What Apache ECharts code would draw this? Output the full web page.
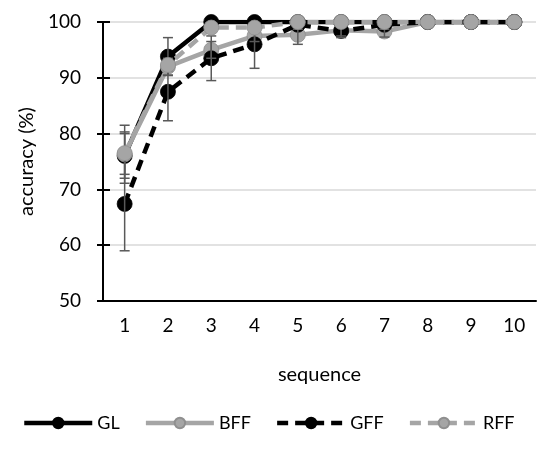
<!DOCTYPE html>
<html>
<head>
<meta charset="utf-8">
<script src="https://cdn.jsdelivr.net/npm/echarts@6/dist/echarts.min.js"></script>
<style>
  html, body { margin: 0; padding: 0; background: #fff; }
  #main { width: 540px; height: 450px; }
</style>
</head>
<body>
<div id="main"></div>
<script>
// data
var sequence = ['1', '2', '3', '4', '5', '6', '7', '8', '9', '10'];
var GL  = [76, 93.8, 100, 100, 100, 100, 100, 100, 100, 100];
var BFF = [76.3, 92, 95, 97.5, 97.7, 98.5, 98.3, 100, 100, 100];
var GFF = [67.4, 87.5, 93.5, 96, 99.5, 98.4, 99.5, 100, 100, 100];
var RFF = [76.5, 92.3, 99, 99, 100, 100, 100, 100, 100, 100];
// +/- error
var GLerr  = [4, 3.4, 0, 0, 0, 0, 0, 0, 0, 0];
var BFFerr = [5.2, 1.5, 1.5, 1, 1.7, 1, 1, 0, 0, 0];
var GFFerr = [8.4, 5.2, 4, 4.3, 0.8, 1.2, 0.8, 0, 0, 0];
var RFFerr = [3.8, 1, 0.8, 0.8, 0, 0, 0, 0, 0, 0];
var yTicks = [50, 60, 70, 80, 90, 100];

var font = 'Lato';
var black = '#000000';
var grey = '#a5a5a5';

function errData(vals, errs) {
  var out = [];
  for (var i = 0; i < vals.length; i++) {
    if (errs[i] > 0) out.push([i, vals[i] - errs[i], vals[i] + errs[i]]);
  }
  return out;
}

function errSeries(name, vals, errs) {
  return {
    name: name + ' err',
    type: 'custom',
    z: 5,
    silent: true,
    data: errData(vals, errs),
    renderItem: function (params, api) {
      var lo = api.coord([api.value(0), Math.max(api.value(1), 50)]);
      var hi = api.coord([api.value(0), Math.min(api.value(2), 100)]);
      var w = 5;
      var st = { stroke: '#595959', lineWidth: 1.5 };
      var kids = [
        { type: 'line', shape: { x1: lo[0], y1: lo[1], x2: hi[0], y2: hi[1] }, style: st }
      ];
      if (api.value(1) >= 50) kids.push({ type: 'line', shape: { x1: lo[0] - w, y1: lo[1], x2: lo[0] + w, y2: lo[1] }, style: st });
      if (api.value(2) <= 100) kids.push({ type: 'line', shape: { x1: hi[0] - w, y1: hi[1], x2: hi[0] + w, y2: hi[1] }, style: st });
      return { type: 'group', children: kids };
    }
  };
}

function lineSeries(name, vals, color, dashed, z) {
  return {
    name: name,
    type: 'line',
    data: vals,
    z: z,
    symbol: 'circle',
    symbolSize: 15,
    showSymbol: true,
    lineStyle: { color: color, width: 4.5, type: dashed ? [11, 7] : 'solid' },
    itemStyle: { color: color, borderColor: color === black ? black : '#8f8f8f', borderWidth: 0.8 },
    emphasis: { disabled: true }
  };
}

var chart = echarts.init(document.getElementById('main'));
chart.setOption({
  animation: false,
  textStyle: { fontFamily: font },
  grid: { left: 103, right: 4, top: 22, bottom: 149, containLabel: false },
  legend: {
    bottom: 18,
    left: 22,
    padding: 0,
    itemWidth: 68,
    itemHeight: 13,
    itemGap: 24,
    lineStyle: { width: 4.5 },
    textStyle: { fontFamily: font, fontSize: 18, color: '#000' },
    data: ['GL', 'BFF', 'GFF', 'RFF']
  },
  xAxis: {
    type: 'category',
    data: sequence,
    boundaryGap: true,
    name: 'sequence',
    nameLocation: 'middle',
    nameGap: 64,
    nameTextStyle: { fontSize: 20, color: '#000', fontFamily: font },
    axisLine: { lineStyle: { color: '#000', width: 2 } },
    axisTick: { alignWithLabel: true, length: 6, lineStyle: { color: '#000', width: 2 } },
    axisLabel: { fontSize: 19, color: '#000', margin: 15, fontFamily: font },
    splitLine: { show: false }
  },
  yAxis: [{
    type: 'value',
    min: yTicks[0],
    max: yTicks[yTicks.length - 1],
    interval: 10,
    name: 'accuracy (%)',
    nameLocation: 'middle',
    nameGap: 55,
    nameTextStyle: { fontSize: 20, color: '#000', fontFamily: font },
    axisLine: { show: true, lineStyle: { color: '#000', width: 2 } },
    axisTick: { show: true, length: 6, lineStyle: { color: '#000', width: 2 } },
    axisLabel: { fontSize: 19, color: '#000', margin: 22, fontFamily: font },
    splitLine: { lineStyle: { color: '#d9d9d9', width: 1.5 } }
  }, {
    // inner half of the crossing ticks
    type: 'value',
    position: 'left',
    min: yTicks[0],
    max: yTicks[yTicks.length - 1],
    interval: 10,
    axisLine: { show: false },
    axisTick: { show: true, inside: true, length: 7, lineStyle: { color: '#000', width: 2 } },
    axisLabel: { show: false },
    splitLine: { show: false }
  }],
  series: [
    lineSeries('GL', GL, black, false, 2),
    lineSeries('BFF', BFF, grey, false, 3),
    lineSeries('GFF', GFF, black, true, 4),
    lineSeries('RFF', RFF, grey, true, 5),
    errSeries('GL', GL, GLerr),
    errSeries('BFF', BFF, BFFerr),
    errSeries('GFF', GFF, GFFerr),
    errSeries('RFF', RFF, RFFerr)
  ]
});
</script>
</body>
</html>
